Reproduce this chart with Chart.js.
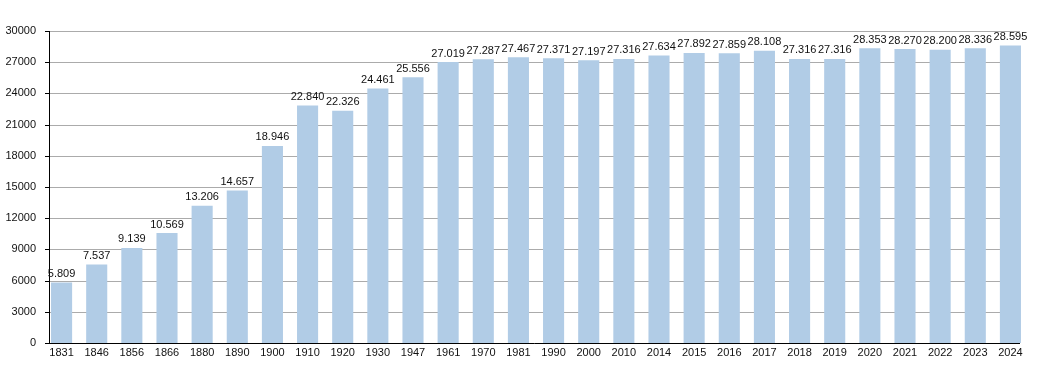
<!DOCTYPE html>
<html>
<head>
<meta charset="utf-8">
<script src="https://cdn.jsdelivr.net/npm/chart.js@4.4.1/dist/chart.umd.min.js"></script>
<style>
  html, body { margin: 0; padding: 0; background: #fff; }
  #wrap { width: 1050px; height: 373px; }
</style>
</head>
<body>
<div id="wrap"><canvas id="popChart" width="1050" height="373"></canvas></div>
<script>
// Dati: anni del censimento e popolazione
const years = ['1831', '1846', '1856', '1866', '1880', '1890', '1900', '1910', '1920', '1930',
    '1947', '1961', '1970', '1981', '1990', '2000', '2010', '2014', '2015', '2016',
    '2017', '2018', '2019', '2020', '2021', '2022', '2023', '2024'];
const population = [5809, 7537, 9139, 10569, 13206, 14657, 18946, 22840, 22326, 24461,
    25556, 27019, 27287, 27467, 27371, 27197, 27316, 27634, 27892, 27859,
    28108, 27316, 27316, 28353, 28270, 28200, 28336, 28595];
const yMin = 0;
const yMax = 30000;
const yMinorStep = 1500;
const yMajorStep = 3000;

const barColor = 'rgb(177, 204, 230)';
const majorGrid = '#ababab';
const minorGrid = '#e4e4e4';
const fontFamily = "'Liberation Sans', Arial, sans-serif";

function formatThousands(n) {
    return String(n).replace(/\B(?=(\d{3})+(?!\d))/g, '.');
}

// griglia e assi disegnati a mano (la griglia inizia sull'asse, non sul bordo dell'area)
const gridPlugin = {
    id: 'gridPlugin',
    beforeDatasetsDraw(chart) {
        const ctx = chart.ctx;
        const y = chart.scales.y;
        const area = chart.chartArea;
        const x0 = Math.round(area.left + 6);
        const x1 = area.right - 8;
        ctx.save();
        ctx.lineWidth = 1;
        y.ticks.forEach(t => {
            const py = Math.round(y.getPixelForValue(t.value)) + 0.5;
            const major = t.value % yMajorStep === 0;
            if (t.value !== yMin) {
                ctx.strokeStyle = major ? majorGrid : minorGrid;
                ctx.beginPath();
                ctx.moveTo(x0, py);
                ctx.lineTo(x1, py);
                ctx.stroke();
            }
            ctx.strokeStyle = '#000';
            ctx.beginPath();
            ctx.moveTo(x0 - (major ? 5 : 2), py);
            ctx.lineTo(x0, py);
            ctx.stroke();
        });
        ctx.restore();
    },
    afterDatasetsDraw(chart) {
        const ctx = chart.ctx;
        const y = chart.scales.y;
        const area = chart.chartArea;
        const x0 = Math.round(area.left + 6) - 0.5;
        const x1 = area.right - 8;
        const top = Math.round(y.getPixelForValue(yMax));
        const bottom = Math.round(y.getPixelForValue(yMin)) + 0.5;
        ctx.save();
        ctx.strokeStyle = '#000';
        ctx.lineWidth = 1;
        ctx.beginPath();
        ctx.moveTo(x0, top);
        ctx.lineTo(x0, bottom);
        ctx.moveTo(x0, bottom);
        ctx.lineTo(x1, bottom);
        ctx.stroke();

        // etichette dei valori sopra le barre
        ctx.fillStyle = '#111';
        ctx.font = '11px ' + fontFamily;
        ctx.textAlign = 'center';
        ctx.textBaseline = 'bottom';
        chart.getDatasetMeta(0).data.forEach((bar, i) => {
            ctx.fillText(formatThousands(population[i]), bar.x, bar.y - 3);
        });
        ctx.restore();
    }
};

new Chart(document.getElementById('popChart'), {
    type: 'bar',
    data: {
        labels: years,
        datasets: [{
            data: population,
            backgroundColor: barColor,
            borderWidth: 0,
            categoryPercentage: 1,
            barPercentage: 0.6
        }]
    },
    options: {
        responsive: false,
        animation: false,
        layout: { padding: { top: 31, right: 22, bottom: 0, left: 0 } },
        plugins: {
            legend: { display: false },
            tooltip: { enabled: false }
        },
        scales: {
            x: {
                offset: true,
                grid: { display: false, tickLength: 0 },
                border: { display: false },
                ticks: {
                    color: '#111',
                    font: { family: fontFamily, size: 11 },
                    padding: 3,
                    maxRotation: 0,
                    autoSkip: false
                },
                afterFit(scale) { scale.height = 30; }
            },
            y: {
                min: yMin,
                max: yMax,
                grid: { display: false, tickLength: 0 },
                border: { display: false },
                ticks: {
                    stepSize: yMinorStep,
                    color: '#111',
                    font: { family: fontFamily, size: 11 },
                    padding: 8,
                    callback: v => (v % yMajorStep === 0 ? String(v) : '')
                },
                afterFit(scale) { scale.width = 44; }
            }
        }
    },
    plugins: [gridPlugin]
});
</script>
</body>
</html>
